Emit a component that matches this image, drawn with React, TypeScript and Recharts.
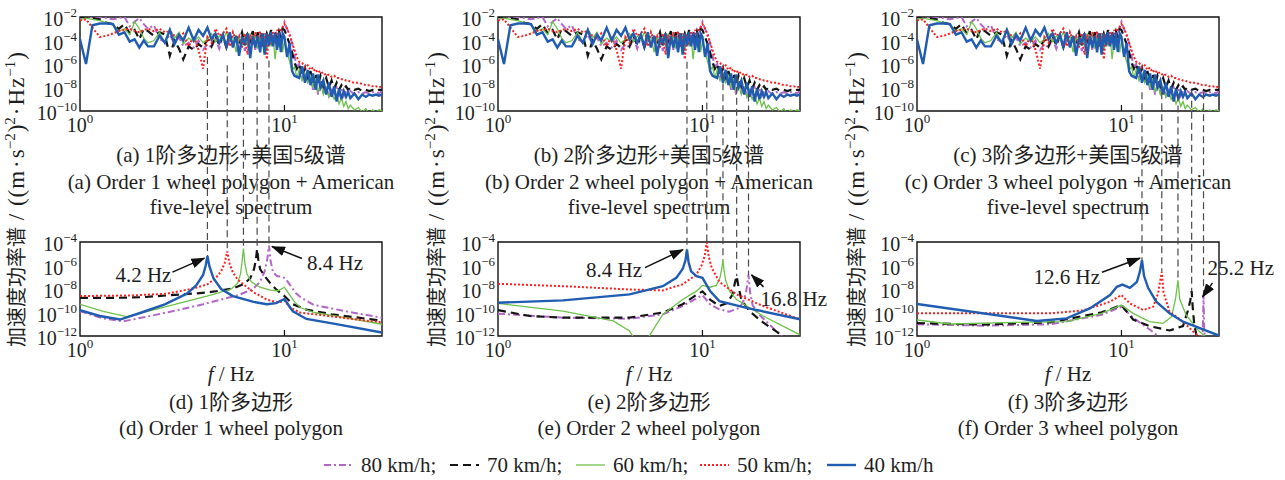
import React from 'react';
import { LineChart, Line, XAxis, YAxis, ReferenceArea } from 'recharts';

const FONT = "'Liberation Serif', 'Times New Roman', 'Noto Sans CJK SC', serif";
const TEXT = '#1e1e1e';

// ---- series meta -----------------------------------------------------------
const speeds = ['80 km/h', '70 km/h', '60 km/h', '50 km/h', '40 km/h'];
// wheel-polygon passing frequency (order 1) for each speed, Hz
const passFreq = [8.4, 7.35, 6.3, 5.25, 4.2];
const orders = [1, 2, 3];

const seriesStyle = [
  { color: '#B366C9', width: 2, dash: '7 3 2 3' },
  { color: '#141414', width: 2.2, dash: '8 5' },
  { color: '#6CC24A', width: 1.3, dash: undefined as string | undefined },
  { color: '#FF1F1F', width: 2, dash: '2 2' },
  { color: '#1F5CB2', width: 2.4, dash: undefined as string | undefined },
];

// ---- panels (a)-(c): measured spectra, log10 PSD on a common frequency grid ----
const specFreq = [
  1.0, 1.07, 1.15, 1.25, 1.35, 1.45, 1.55, 1.65, 1.75, 1.85,
  1.95, 2.05, 2.15, 2.3, 2.45, 2.6, 2.75, 2.9, 3.05, 3.2,
  3.4, 3.6, 3.8, 4.0, 4.2, 4.4, 4.6, 4.8, 5.0, 5.2,
  5.4, 5.6, 5.8, 6.0, 6.2, 6.4, 6.6, 6.8, 7.0, 7.2,
  7.4, 7.6, 7.8, 8.0, 8.2, 8.4, 8.6, 8.8, 9.0, 9.2,
  9.4, 9.6, 9.8, 10.0, 10.3, 10.6, 10.9, 11.2, 11.5, 11.8,
  12.2, 12.6, 13.0, 13.4, 13.8, 14.2, 14.6, 15.0, 15.5, 16.0,
  16.5, 17.0, 17.5, 18.0, 18.5, 19.0, 19.5, 20.0, 20.5, 21,
  22, 23, 24, 25, 26, 27, 28, 29, 30,
];
const spec80 = [
  -2.1, -2.0, -2.0, -2.0, -2.1, -2.2, -2.1, -2.0, -2.8, -2.4,
  -2.1, -2.6, -3.0, -2.7, -3.9, -4.1, -3.5, -4.3, -3.7, -4.5,
  -4.2, -4.6, -4.0, -4.8, -4.3, -4.6, -3.8, -4.7, -3.7, -4.6,
  -4.0, -4.5, -3.7, -4.7, -3.6, -4.9, -3.9, -4.5, -3.6, -4.8,
  -3.5, -4.3, -3.7, -4.1, -3.5, -4.5, -3.4, -4.2, -3.5, -4.0,
  -3.3, -3.9, -2.8, -2.4, -3.0, -3.6, -4.2, -5.3, -6.3, -6.0,
  -7.2, -6.5, -7.6, -6.8, -8.2, -7.1, -8.6, -7.5, -8.4, -7.8,
  -8.7, -8.0, -8.5, -8.0, -8.6, -8.1, -8.7, -8.2, -8.5, -8.3,
  -8.6, -8.4, -8.5, -8.4, -8.5, -8.4, -8.4, -8.5, -8.3,
];
const spec70 = [
  -2.0, -2.0, -2.1, -2.2, -2.5, -2.6, -3.0, -2.6, -3.4, -3.1,
  -3.9, -3.0, -3.2, -3.6, -3.3, -3.5, -5.3, -4.0, -4.7, -5.6,
  -4.5, -4.8, -4.3, -4.6, -3.9, -4.5, -3.6, -4.4, -3.6, -4.6,
  -3.7, -4.4, -3.5, -4.1, -3.3, -4.4, -3.5, -4.0, -3.2, -4.4,
  -3.3, -4.0, -3.2, -4.1, -3.4, -3.9, -3.1, -4.0, -3.3, -3.8,
  -3.2, -3.7, -3.0, -3.1, -3.7, -4.3, -5.0, -5.9, -6.4, -6.0,
  -7.0, -6.3, -7.4, -6.6, -7.6, -6.8, -7.8, -7.0, -7.9, -7.2,
  -8.0, -7.4, -8.1, -7.6, -8.2, -7.8, -8.1, -7.9, -8.2, -8.0,
  -8.2, -8.1, -8.3, -8.2, -8.3, -8.2, -8.3, -8.2, -8.2,
];
const spec60 = [
  -2.2, -2.1, -2.2, -2.3, -2.5, -2.7, -3.2, -3.0, -3.5, -2.4,
  -3.0, -3.8, -4.2, -4.0, -3.3, -4.2, -3.0, -3.8, -3.3, -4.3,
  -3.8, -4.1, -3.7, -4.2, -3.9, -3.4, -4.1, -3.6, -4.0, -3.3,
  -4.0, -3.6, -5.0, -3.7, -4.4, -3.6, -4.5, -3.4, -4.3, -3.5,
  -4.7, -3.8, -4.4, -3.5, -4.9, -3.6, -4.5, -3.7, -5.6, -4.0,
  -4.6, -3.8, -5.0, -4.0, -5.0, -5.8, -6.6, -6.2, -7.2, -6.5,
  -7.4, -6.8, -7.6, -7.0, -8.0, -7.2, -8.4, -7.6, -8.6, -8.0,
  -8.8, -8.3, -9.0, -8.6, -9.4, -8.9, -9.6, -9.2, -9.8, -9.5,
  -9.9, -9.7, -10.1, -9.8, -10.2, -9.9, -10.1, -9.9, -10.0,
];
const spec50 = [
  -2.3, -2.2, -2.9, -3.7, -3.6, -3.4, -3.2, -3.1, -3.0, -3.2,
  -3.3, -3.1, -3.0, -3.2, -3.0, -3.3, -3.2, -3.6, -3.8, -3.4,
  -4.5, -3.6, -4.8, -6.4, -3.7, -4.2, -3.0, -3.6, -3.4, -3.0,
  -4.5, -3.3, -4.0, -3.6, -4.6, -3.4, -5.2, -3.5, -4.4, -3.3,
  -4.0, -3.2, -4.6, -3.4, -5.6, -3.5, -4.3, -3.3, -4.0, -3.1,
  -3.6, -3.0, -2.9, -2.6, -3.0, -3.5, -4.2, -4.8, -5.4, -5.8,
  -5.9, -6.3, -6.1, -6.5, -6.3, -6.7, -6.5, -6.8, -6.7, -7.0,
  -6.9, -7.1, -7.0, -7.2, -7.2, -7.3, -7.3, -7.4, -7.4, -7.5,
  -7.6, -7.6, -7.7, -7.8, -7.8, -7.9, -7.9, -8.0, -7.9,
];
const spec40 = [
  -3.9, -6.0, -2.7, -2.55, -2.55, -2.6, -3.5, -3.3, -4.1, -3.9,
  -4.6, -4.0, -4.5, -4.5, -3.6, -4.2, -3.1, -4.3, -3.5, -4.0,
  -2.9, -4.0, -3.1, -3.6, -2.9, -3.9, -3.4, -4.2, -3.5, -4.5,
  -3.3, -4.6, -3.6, -5.3, -3.8, -4.2, -3.4, -5.5, -3.6, -4.6,
  -3.6, -5.0, -3.4, -5.2, -3.4, -4.4, -3.3, -4.5, -3.4, -4.8,
  -3.3, -5.0, -3.4, -3.7, -5.4, -4.2, -6.6, -7.0, -7.1, -7.2,
  -6.2, -7.6, -6.5, -7.8, -6.8, -8.2, -6.9, -8.0, -7.4, -8.6,
  -7.6, -8.8, -7.9, -9.2, -8.1, -9.0, -8.3, -8.8, -8.4, -8.9,
  -8.5, -9.0, -8.6, -8.8, -8.6, -8.7, -8.6, -8.7, -8.6,
];

// ---- panels (d)-(f): polygon-only response, [frequency Hz, log10 PSD] ----
const ord1_80 = [[1, -9.9], [1.3, -10.5], [1.63, -10.75], [2.2, -10.3], [3, -9.8], [4, -9.3], [5, -8.85], [6, -8.5], [7, -8.0], [7.6, -7.4], [8.0, -6.5], [8.25, -5.4], [8.4, -4.3], [8.55, -5.6], [8.8, -6.6], [9.2, -6.9], [9.7, -6.95], [10.1, -7.1], [10.6, -7.6], [11.3, -8.3], [12, -8.7], [13.9, -9.35], [20, -9.9], [30, -10.45]];
const ord1_70 = [[1, -8.75], [1.5, -8.75], [2, -8.7], [2.65, -8.55], [3.5, -8.4], [4.2, -8.3], [5, -8.1], [5.6, -7.95], [6.3, -7.6], [6.8, -7.1], [7.1, -6.3], [7.25, -5.5], [7.35, -4.6], [7.45, -5.5], [7.6, -6.3], [8.0, -6.9], [8.6, -7.6], [9.2, -8.1], [10, -8.6], [11, -9.3], [12.8, -9.75], [17, -10.15], [30, -10.7]];
const ord1_60 = [[1, -9.3], [1.3, -9.9], [1.69, -10.35], [2.5, -9.6], [3.5, -8.95], [4.5, -8.45], [5.5, -8.0], [5.9, -7.5], [6.1, -6.7], [6.2, -5.7], [6.3, -4.55], [6.4, -5.8], [6.55, -6.7], [6.9, -7.4], [7.6, -7.85], [8.5, -8.1], [9.3, -8.15], [10, -7.85], [10.5, -8.4], [11.2, -9.1], [12, -9.6], [14, -10.0], [18, -10.3], [30, -11.0]];
const ord1_50 = [[1, -8.6], [1.8, -8.55], [2.65, -8.4], [3.6, -7.95], [4.2, -7.6], [4.6, -7.1], [4.9, -6.5], [5.1, -5.8], [5.25, -4.8], [5.4, -5.9], [5.6, -6.6], [5.9, -7.2], [6.5, -7.8], [7.1, -8.3], [8.2, -8.9], [9.3, -9.15], [10, -9.0], [10.7, -9.6], [11.9, -10.0], [14, -10.15], [17.4, -10.35], [30, -10.85]];
const ord1_40 = [[1, -9.8], [1.25, -10.3], [1.57, -10.6], [2, -10.0], [2.6, -9.3], [3.33, -8.4], [3.7, -7.7], [4.0, -6.8], [4.12, -6.0], [4.2, -5.2], [4.3, -6.1], [4.5, -7.1], [4.9, -8.0], [5.6, -8.6], [7.06, -9.1], [8.2, -9.3], [9.1, -9.2], [10, -8.85], [10.5, -9.4], [11, -9.9], [12.8, -10.55], [17.4, -10.95], [30, -11.7]];

const ord2_80 = [[1, -10.1], [2.08, -10.44], [4.4, -10.53], [6.4, -10.16], [8, -9.45], [9.35, -8.8], [10, -8.52], [10.9, -9.31], [12.1, -9.73], [13.5, -9.93], [15.2, -9.6], [16.0, -8.9], [16.4, -8.1], [16.8, -6.8], [17.1, -8.3], [17.6, -9.4], [19, -10.2], [23, -11.6], [25, -12.2], [30, -13]];
const ord2_70 = [[1, -9.8], [1.43, -10.3], [2.08, -10.44], [4.4, -10.44], [6.4, -10.0], [8, -9.3], [9.35, -8.5], [10, -8.2], [10.9, -8.9], [12.1, -9.45], [13.2, -9.2], [14.0, -8.5], [14.4, -7.5], [14.7, -6.9], [15.0, -7.8], [15.5, -8.9], [17, -9.9], [19.8, -10.85], [24.8, -12.0], [30, -13]];
const ord2_60 = [[1, -9.23], [2.08, -9.88], [3.66, -10.72], [4.4, -11.57], [4.75, -12.5], [4.9, -14], [5.2, -14], [5.4, -12.2], [6.4, -10.16], [8, -8.89], [9.35, -8.18], [10, -7.7], [10.9, -7.85], [11.7, -7.7], [12.2, -7.0], [12.45, -6.2], [12.6, -5.5], [12.75, -6.4], [13.0, -7.3], [13.6, -8.2], [14.7, -8.9], [17, -9.6], [19.8, -10.3], [30, -11.9]];
const ord2_50 = [[1, -7.56], [2.08, -7.76], [4.4, -8.04], [6.4, -8.12], [8, -7.6], [9.35, -6.77], [9.9, -6.0], [10.25, -5.2], [10.5, -4.05], [10.75, -5.3], [11.1, -6.2], [12.1, -7.4], [14.7, -8.46], [19.8, -9.45], [30, -10.58]];
const ord2_40 = [[1, -9.17], [2.08, -8.97], [4.4, -8.46], [6.4, -7.76], [7.45, -7.05], [8.0, -6.3], [8.25, -5.6], [8.4, -4.65], [8.55, -5.7], [8.8, -6.5], [9.35, -6.9], [10, -7.05], [10.9, -8.18], [12.1, -9.03], [16.4, -9.6], [30, -10.58]];

const ord3_80 = [[1, -11.0], [2.1, -11.12], [4.5, -11.0], [8, -10.2], [10, -9.51], [11.4, -10.44], [13.7, -11.43], [15.1, -12.0], [16, -12.5], [24.7, -12.5], [25.0, -11.5], [25.2, -8.5], [25.4, -11.5], [25.7, -12.5], [30, -13]];
const ord3_70 = [[1, -10.9], [2.1, -11.03], [4.5, -10.84], [8, -9.99], [10, -9.37], [11.4, -10.6], [13.7, -11.16], [17.2, -11.53], [20, -11.16], [21.1, -9.87], [21.7, -9.0], [22.05, -8.18], [22.3, -9.5], [22.7, -11.0], [23.3, -12.0], [30, -13.5]];
const ord3_60 = [[1, -10.64], [1.45, -10.98], [3.07, -10.84], [5.4, -10.78], [8, -10.07], [10, -9.37], [11.4, -10.07], [13.7, -10.78], [16, -10.92], [17.6, -10.36], [18.4, -8.8], [18.9, -7.25], [19.3, -8.9], [20.7, -10.2], [24, -11.6], [26, -12.1], [30, -13]];
const ord3_50 = [[1, -10.07], [4.5, -10.07], [6.5, -9.82], [8.8, -9.08], [10, -8.52], [11, -9.23], [12.8, -9.79], [14.3, -9.51], [15.1, -8.38], [15.75, -6.54], [16.05, -8.3], [17.2, -9.93], [20, -10.78], [23.3, -11.9], [30, -13]];
const ord3_40 = [[1, -9.28], [3.85, -10.72], [5.4, -10.5], [7, -9.65], [8.8, -8.52], [9.5, -7.81], [10.1, -7.62], [11, -7.9], [11.9, -7.39], [12.3, -6.54], [12.6, -5.55], [12.9, -6.9], [13.5, -7.9], [14.8, -9.08], [17.2, -10.07], [20, -10.78], [30, -11.97]];

const polySeries = [
  [ord1_80, ord1_70, ord1_60, ord1_50, ord1_40],
  [ord2_80, ord2_70, ord2_60, ord2_50, ord2_40],
  [ord3_80, ord3_70, ord3_60, ord3_50, ord3_40],
];
const measured = [spec80, spec70, spec60, spec50, spec40];

// where each guide line leaves the upper spectrum (log10 PSD), per column, per speed
const guideTop = [
  [-5.7, -5.9, -5.9, -6.1, -5.4],
  [-8.6, -7.0, -6.7, -7.4, -5.8],
  [-8.4, -8.2, -8.6, -8.4, -8.4],
];

const topCaptions = [
  ['(a) 1阶多边形+美国5级谱', '(a) Order 1 wheel polygon + American', 'five-level spectrum'],
  ['(b) 2阶多边形+美国5级谱', '(b) Order 2 wheel polygon + American', 'five-level spectrum'],
  ['(c) 3阶多边形+美国5级谱', '(c) Order 3 wheel polygon + American', 'five-level spectrum'],
];
const bottomCaptions = [
  ['(d) 1阶多边形', '(d) Order 1 wheel polygon'],
  ['(e) 2阶多边形', '(e) Order 2 wheel polygon'],
  ['(f) 3阶多边形', '(f) Order 3 wheel polygon'],
];

// ---- layout ----------------------------------------------------------------
const CHART_W = 392;
const CHART_H = 150;
const PLOT_W = 302;
const PLOT_H = 94;
const Y_AXIS_W = 80;
const X_AXIS_H = 40;
const MARGIN = { top: 16, right: 10, left: 0, bottom: 0 };
const COL_PLOT_LEFT = [80, 498, 917];
const ROW_PLOT_TOP = [17, 242];
const F_MAX = 30;

const px = (col: number, f: number) => COL_PLOT_LEFT[col] + (PLOT_W * Math.log10(f)) / Math.log10(F_MAX);
const pyTop = (e: number) => ROW_PLOT_TOP[0] + (PLOT_H * (-2 - e)) / 8;
const pyBot = (e: number) => ROW_PLOT_TOP[1] + (PLOT_H * (-4 - e)) / 8;

const fmtExp = (n: number) => (n < 0 ? '\u2212' + Math.abs(n) : String(n));

const XTick = (props: any) => {
  const { x, y, payload } = props;
  const exp = Math.round(Math.log10(payload.value));
  return (
    <g>
      {exp > 0 && <line x1={x} x2={x} y1={y} y2={y - 6} stroke="#111" strokeWidth={1.2} />}
      <text x={x} y={y + 21} textAnchor="middle" fontFamily={FONT} fontSize={20} fill={TEXT}>
        <tspan>10</tspan>
        <tspan dy={-9} fontSize={13}>{fmtExp(exp)}</tspan>
      </text>
    </g>
  );
};

const YTick = (props: any) => {
  const { x, y, payload } = props;
  const exp = Math.round(Math.log10(payload.value));
  return (
    <text x={x} y={y} textAnchor="end" fontFamily={FONT} fontSize={20} fill={TEXT}>
      <tspan dy={9}>10</tspan>
      <tspan dy={-9} fontSize={13}>{fmtExp(exp)}</tspan>
    </text>
  );
};

type Pt = { f: number; v: number };

function Panel({ col, row, data }: { col: number; row: number; data: Pt[][] }) {
  const yDomain = row === 0 ? [1e-10, 1e-2] : [1e-12, 1e-4];
  const yTicks = row === 0 ? [1e-10, 1e-8, 1e-6, 1e-4, 1e-2] : [1e-12, 1e-10, 1e-8, 1e-6, 1e-4];
  return (
    <div style={{ position: 'absolute', left: COL_PLOT_LEFT[col] - Y_AXIS_W, top: ROW_PLOT_TOP[row] - MARGIN.top }}>
      <LineChart width={CHART_W} height={CHART_H} margin={MARGIN} style={{ overflow: 'visible' }}>
        <XAxis
          type="number"
          dataKey="f"
          scale="log"
          domain={[1, F_MAX]}
          ticks={[1, 10]}
          interval={0}
          allowDataOverflow
          axisLine={false}
          tickLine={false}
          tickSize={0}
          tickMargin={0}
          height={X_AXIS_H}
          tick={XTick}
        />
        <YAxis
          type="number"
          scale="log"
          domain={yDomain}
          ticks={yTicks}
          interval={0}
          allowDataOverflow
          axisLine={false}
          tickLine={false}
          tickSize={0}
          tickMargin={3}
          width={Y_AXIS_W}
          tick={YTick}
        />
        {data.map((pts, i) => (
          <Line
            key={speeds[i]}
            data={pts}
            dataKey="v"
            type="linear"
            stroke={seriesStyle[i].color}
            strokeWidth={seriesStyle[i].width}
            strokeDasharray={seriesStyle[i].dash}
            dot={false}
            activeDot={false}
            isAnimationActive={false}
          />
        ))}
        <ReferenceArea
          x1={1}
          x2={F_MAX}
          y1={yDomain[0]}
          y2={yDomain[1]}
          fill="none"
          fillOpacity={0}
          stroke="#111"
          strokeWidth={1.4}
          ifOverflow="visible"
        />
      </LineChart>
    </div>
  );
}

// peak callouts: series index, then arrow tip / tail / text offsets from the peak
const callouts = [
  [
    { s: 4, tip: [-3, 2], tail: [-35, 16], text: [-36, 26], anchor: 'end' },
    { s: 0, tip: [3, 1], tail: [33, 13], text: [38, 24], anchor: 'start' },
  ],
  [
    { s: 4, tip: [-4, 0], tail: [-42, 18], text: [-45, 27], anchor: 'end' },
    { s: 0, tip: [3, 0], tail: [15, 12], text: [12, 31], anchor: 'start' },
  ],
  [
    { s: 4, tip: [-2, -2], tail: [-40, 12], text: [-42, 24], anchor: 'end' },
    { s: 0, tip: [-1, 2], tail: [9, -12], text: [4, -20], anchor: 'start' },
  ],
];

const peakOf = (pairs: number[][]) => Math.max(...pairs.map((p) => p[1]));

function YTitle({ bx }: { bx: number }) {
  // reads bottom-to-top, starting near the lower panel's base
  return (
    <text transform={`translate(${bx},347) rotate(-90)`} textAnchor="start" fontFamily={FONT} fontSize={23} fill={TEXT}>
      <tspan fontSize={20}>加速度功率谱</tspan>
      <tspan letterSpacing={1}> / ((m</tspan>
      <tspan dx={2}>·</tspan>
      <tspan dx={2}>s</tspan>
      <tspan dy={-9} fontSize={15}>−2</tspan>
      <tspan dy={9} dx={1}>)</tspan>
      <tspan dy={-9} fontSize={15}>2</tspan>
      <tspan dy={9} dx={2}>·</tspan>
      <tspan dx={2} letterSpacing={1}>Hz</tspan>
      <tspan dy={-9} fontSize={15}>−1</tspan>
      <tspan dy={9} dx={1}>)</tspan>
    </text>
  );
}

function Overlay() {
  const legendX = [324, 450, 576, 700, 827];
  return (
    <svg width={1285} height={480} style={{ position: 'absolute', left: 0, top: 0, pointerEvents: 'none' }}>
      <defs>
        <marker id="arrowHead" markerUnits="userSpaceOnUse" markerWidth={14} markerHeight={10} refX={13} refY={5} orient="auto">
          <path d="M0,0 L14,5 L0,10 Z" fill="#111" />
        </marker>
      </defs>

      {/* vertical axis titles */}
      {[24, 444, 864].map((bx) => (
        <YTitle key={'yl' + bx} bx={bx} />
      ))}

      {/* captions */}
      {orders.map((_, c) => {
        const cx = COL_PLOT_LEFT[c] + PLOT_W / 2;
        return (
          <g key={'cap' + c} fontFamily={FONT} fontSize={21} fill={TEXT} textAnchor="middle">
            <text x={cx} y={162}>{topCaptions[c][0]}</text>
            <text x={cx} y={189}>{topCaptions[c][1]}</text>
            <text x={cx} y={214}>{topCaptions[c][2]}</text>
            <text x={cx} y={381}>
              <tspan fontStyle="italic">f</tspan> / Hz
            </text>
            <text x={cx} y={409}>{bottomCaptions[c][0]}</text>
            <text x={cx} y={435}>{bottomCaptions[c][1]}</text>
          </g>
        );
      })}

      {/* guide lines from upper spectra to polygon peaks */}
      {orders.map((ord, c) =>
        passFreq.map((f0, i) => {
          const f = f0 * ord;
          const x = px(c, f);
          return (
            <line
              key={`g${c}-${i}`}
              x1={x}
              x2={x}
              y1={pyTop(guideTop[c][i])}
              y2={pyBot(peakOf(polySeries[c][i]))}
              stroke="#4a4a4a"
              strokeWidth={1.2}
              strokeDasharray="7 4"
            />
          );
        })
      )}

      {/* peak callouts */}
      {orders.map((ord, c) =>
        callouts[c].map((co, k) => {
          const f = passFreq[co.s] * ord;
          const x0 = px(c, f);
          const y0 = pyBot(peakOf(polySeries[c][co.s]));
          return (
            <g key={`co${c}-${k}`}>
              <line
                x1={x0 + co.tail[0]}
                y1={y0 + co.tail[1]}
                x2={x0 + co.tip[0]}
                y2={y0 + co.tip[1]}
                stroke="#111"
                strokeWidth={1.5}
                markerEnd="url(#arrowHead)"
              />
              <text
                x={x0 + co.text[0]}
                y={y0 + co.text[1]}
                textAnchor={co.anchor as any}
                fontFamily={FONT}
                fontSize={21}
                fill={TEXT}
              >
                {f.toFixed(1)} Hz
              </text>
            </g>
          );
        })
      )}

      {/* legend */}
      {speeds.map((sp, i) => {
        const x = legendX[i];
        const st = seriesStyle[i];
        return (
          <g key={'lg' + i}>
            <line x1={x} x2={x + 29} y1={465} y2={465} stroke={st.color} strokeWidth={st.width} strokeDasharray={st.dash} />
            <text x={x + 37} y={472} fontFamily={FONT} fontSize={21} fill={TEXT}>
              {sp}
              {i < speeds.length - 1 ? ';' : ''}
            </text>
          </g>
        );
      })}
    </svg>
  );
}

export default function App() {
  const topData: Pt[][] = measured.map((arr) => specFreq.map((f, i) => ({ f, v: 10 ** arr[i] })));
  const bottomData: Pt[][][] = polySeries.map((group) =>
    group.map((pairs) => pairs.map(([f, e]) => ({ f, v: 10 ** e })))
  );
  return (
    <div style={{ position: 'absolute', left: 0, top: 0, width: 1285, height: 480, background: '#fff', overflow: 'hidden' }}>
      {orders.map((_, c) => (
        <Panel key={'t' + c} col={c} row={0} data={topData} />
      ))}
      {orders.map((_, c) => (
        <Panel key={'b' + c} col={c} row={1} data={bottomData[c]} />
      ))}
      <Overlay />
    </div>
  );
}
